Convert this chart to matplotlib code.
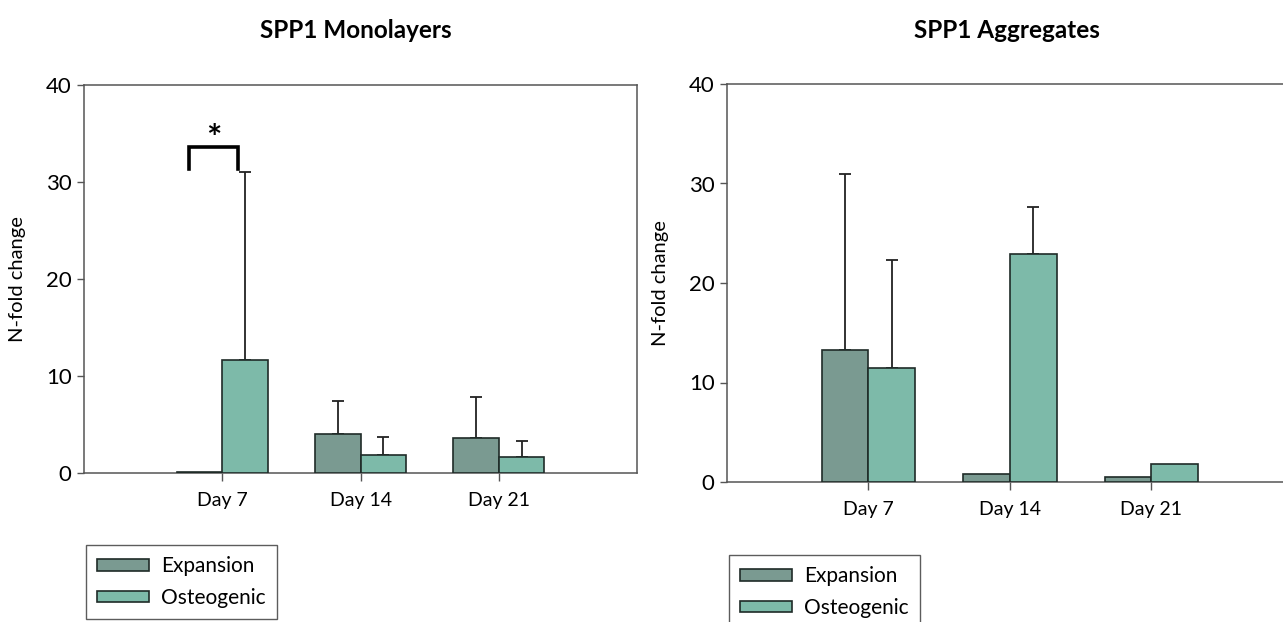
import matplotlib

matplotlib.use("Agg")

import matplotlib.pyplot as plt
import numpy as np
from matplotlib.patches import Patch

# ---- data ----
days = ["Day 7", "Day 14", "Day 21"]
series_names = ["Expansion", "Osteogenic"]

mono_expansion = [0.1, 4.0, 3.6]
mono_expansion_top = [np.nan, 7.4, 7.8]      # upper end of error bar
mono_osteogenic = [11.7, 1.9, 1.7]
mono_osteogenic_top = [31.0, 3.7, 3.3]

aggr_expansion = [13.3, 0.77, 0.5]
aggr_expansion_top = [31.0, np.nan, np.nan]
aggr_osteogenic = [11.5, 22.9, 1.8]
aggr_osteogenic_top = [22.3, 27.6, np.nan]

y_ticks = [0, 10, 20, 30, 40]

EXP_COLOR = "#7a9a91"
OST_COLOR = "#7dbaa9"
EDGE = "#1f2b28"
SPINE = "#555555"
BAR_W = 0.33

plt.rcParams["font.family"] = ["Lato", "DejaVu Sans"]

fig = plt.figure(figsize=(12.83, 6.22), dpi=100)


def draw_panel(ax, exp, exp_top, ost, ost_top):
    x = np.arange(len(days))
    for offs, vals, tops, color in ((-BAR_W / 2, exp, exp_top, EXP_COLOR),
                                    (BAR_W / 2, ost, ost_top, OST_COLOR)):
        vals = np.asarray(vals, float)
        tops = np.asarray(tops, float)
        ax.bar(x + offs, vals, BAR_W, color=color, edgecolor=EDGE,
               linewidth=1.2, zorder=3)
        m = ~np.isnan(tops)
        err = np.vstack([np.zeros(m.sum()), tops[m] - vals[m]])
        ax.errorbar(x[m] + offs, vals[m], yerr=err, fmt="none", ecolor="#222222",
                    elinewidth=1.3, capsize=4.5, capthick=1.3, zorder=2)
    ax.set_xlim(-1, 3)
    ax.set_ylim(0, 40)
    ax.set_yticks(y_ticks)
    ax.set_xticks(x)
    ax.set_xticklabels(days, fontsize=14)
    ax.tick_params(axis="y", labelsize=16, length=5, width=1, color=SPINE, pad=4)
    ax.tick_params(axis="x", length=6, width=1, color=SPINE, pad=8)
    for s in ax.spines.values():
        s.set_color(SPINE)
        s.set_linewidth(1.1)
    ax.set_ylabel("N-fold change", fontsize=14.5, labelpad=14)


ax1 = fig.add_axes([84 / 1283, 1 - 473 / 622, 553 / 1283, 388 / 622])
draw_panel(ax1, mono_expansion, mono_expansion_top, mono_osteogenic, mono_osteogenic_top)

# significance bracket between the two Day 7 bars
br_low, br_high = 31.3, 33.6
br_left, br_right = -0.72 * BAR_W, 0.35 * BAR_W
ax1.plot([br_left, br_left, br_right, br_right], [br_low, br_high, br_high, br_low],
         color="black", linewidth=2.6, solid_joinstyle="miter", zorder=4)
ax1.text((br_left + br_right) / 2, br_high - 0.9, "*", ha="center", va="bottom",
         fontsize=26, fontweight="bold")

# right panel runs past the image edge (cropped like the reference)
ax2 = fig.add_axes([727 / 1283, 1 - 482 / 622, 566 / 1283, 398 / 622])
draw_panel(ax2, aggr_expansion, aggr_expansion_top, aggr_osteogenic, aggr_osteogenic_top)

fig.text(356 / 1283, 1 - 30 / 622, "SPP1 Monolayers", ha="center", va="center",
         fontsize=17.5, fontweight="bold")
fig.text(1007 / 1283, 1 - 30 / 622, "SPP1 Aggregates", ha="center", va="center",
         fontsize=17.5, fontweight="bold")

handles = [Patch(facecolor=EXP_COLOR, edgecolor=EDGE, linewidth=1.2, label=series_names[0]),
           Patch(facecolor=OST_COLOR, edgecolor=EDGE, linewidth=1.2, label=series_names[1])]
for anchor in ((86 / 1283, 1 - 545 / 622), (729 / 1283, 1 - 555 / 622)):
    leg = fig.legend(handles=handles, loc="upper left", bbox_to_anchor=anchor,
                     fontsize=15, frameon=True, fancybox=False, handlelength=2.45,
                     handleheight=0.5, handletextpad=0.6, labelspacing=0.55,
                     borderpad=0.55, borderaxespad=0)
    leg.get_frame().set_edgecolor("#333333")
    leg.get_frame().set_linewidth(1.0)

fig.savefig("out.png", dpi=100)
